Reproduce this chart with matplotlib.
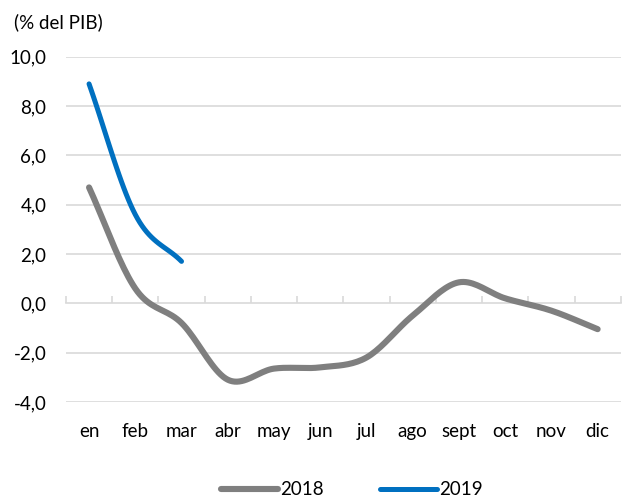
import numpy as np
import matplotlib.pyplot as plt
from matplotlib.ticker import FuncFormatter

meses = ['en', 'feb', 'mar', 'abr', 'may', 'jun', 'jul', 'ago', 'sept', 'oct', 'nov', 'dic']
v2018 = [4.7, 0.6, -0.8, -3.1, -2.65, -2.6, -2.2, -0.5, 0.85, 0.2, -0.3, -1.05]
v2019 = [8.9, 3.6, 1.7]

gris = '#7f7f7f'
azul = '#0070c0'
grid_c = '#d9d9d9'


def suave(y, n=20):
    # curva suavizada tipo Excel (Catmull-Rom) que pasa por los puntos
    x = np.arange(len(y), dtype=float)
    y = np.asarray(y, dtype=float)
    px = np.concatenate([[2 * x[0] - x[1]], x, [2 * x[-1] - x[-2]]])
    py = np.concatenate([[2 * y[0] - y[1]], y, [2 * y[-1] - y[-2]]])
    xs, ys = [], []
    t = np.linspace(0, 1, n, endpoint=False)
    for i in range(1, len(px) - 2):
        for arr, out in ((px, xs), (py, ys)):
            p0, p1, p2, p3 = arr[i - 1], arr[i], arr[i + 1], arr[i + 2]
            out.extend(0.5 * ((2 * p1) + (-p0 + p2) * t +
                              (2 * p0 - 5 * p1 + 4 * p2 - p3) * t ** 2 +
                              (-p0 + 3 * p1 - 3 * p2 + p3) * t ** 3))
    xs.append(x[-1])
    ys.append(y[-1])
    return np.array(xs), np.array(ys)


plt.rcParams['font.family'] = ['Lato', 'DejaVu Sans']
fs = 13.5
fig = plt.figure(figsize=(6.22, 4.98), dpi=100)
ax = fig.add_axes([0.106, 0.193, 0.892, 0.693])

ymin, ymax = -4, 10
for v in np.arange(ymin, ymax + 1, 2):
    if v != 0:
        ax.axhline(v, color=grid_c, lw=1.2, zorder=0)

x1, y1 = suave(v2018)
x2, y2 = suave(v2019)
ax.plot(x1, y1, color=gris, lw=4.4, solid_capstyle='round', label='2018', zorder=3)
ax.plot(x2, y2, color=azul, lw=3.6, solid_capstyle='round', label='2019', zorder=4)

ax.set_xlim(-0.5, len(meses) - 0.5)
ax.set_ylim(ymin, ymax)
ax.set_yticks(np.arange(ymin, ymax + 1, 2))
ax.yaxis.set_major_formatter(FuncFormatter(lambda v, p: f'{v:.1f}'.replace('.', ',')))
ax.set_xticks(range(len(meses)))
ax.set_xticklabels(meses)
ax.tick_params(axis='both', length=0, labelsize=fs, colors='black')
ax.tick_params(axis='y', pad=14)
ax.tick_params(axis='x', pad=15)
for s in ax.spines.values():
    s.set_visible(False)

# eje en cero con marcas entre categorias
eje = ax.secondary_xaxis((0 - ymin) / (ymax - ymin))
eje.set_xticks(np.arange(-0.5, len(meses) + 0.5, 1))
eje.set_xticklabels([])
eje.tick_params(direction='in', length=5, width=1.2, color=grid_c)
eje.spines['bottom'].set_color(grid_c)
eje.spines['bottom'].set_linewidth(1.2)

fig.text(0.022, 0.955, '(% del PIB)', fontsize=fs, va='center', ha='left')

ax.legend(loc='center', bbox_to_anchor=(0.516, -0.255), ncol=2, frameon=False,
          fontsize=fs, handlelength=3.0, handletextpad=0.15, columnspacing=3.0)

fig.savefig('out.png', dpi=100)
